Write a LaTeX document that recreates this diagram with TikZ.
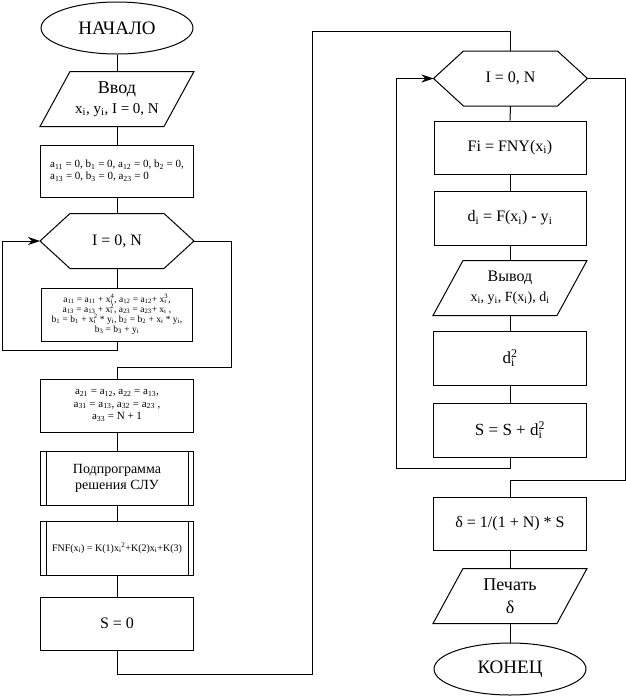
\documentclass[tikz,border=0pt]{standalone}
\usepackage{fontspec}
\setmainfont{Liberation Serif}
\usetikzlibrary{calc,arrows.meta,shapes.geometric}
\newcommand{\fsz}[2]{\fontsize{#1}{#2}\selectfont}
\def\hexframe(#1){\draw ([xshift=30pt]#1.north west) -- ([xshift=-30pt]#1.north east) -- (#1.east) -- ([xshift=-30pt]#1.south east) -- ([xshift=30pt]#1.south west) -- (#1.west) -- cycle;}
\def\slantframe(#1){\draw ([xshift=30pt]#1.north west) -- (#1.north east) -- ([xshift=-30pt]#1.south east) -- (#1.south west) -- cycle;}
\def\subframe(#1){\draw ([xshift=6pt]#1.north west) -- ([xshift=6pt]#1.south west); \draw ([xshift=-6pt]#1.north east) -- ([xshift=-6pt]#1.south east);}
\tikzset{
	blok/.style={draw, rectangle, minimum width=153pt, minimum height=54pt, inner sep=1pt, align=center, font=\fsz{16}{19}},
	bare/.style={rectangle, minimum width=153pt, minimum height=54pt, inner sep=1pt, align=center, font=\fsz{16}{19}},
	term/.style={draw, ellipse, minimum width=152pt, minimum height=52pt, inner sep=0pt, font=\fsz{19}{20}},
	back/.style={-{Stealth[length=12pt,width=8pt]}}
}

\begin{document}
\begin{tikzpicture}[x=1pt, y=-1pt, line width=1pt]
		%%%%% START %%%%%
		\useasboundingbox (0, 0) rectangle (626, 697);
		
		% left column
		\node[term] (start) at (117, 28) {НАЧАЛО};
		\node[bare, font=\fsz{15}{20}] (vvod) at (117, 99) {{\fsz{18}{20}Ввод}\\x\textsubscript{i}, y\textsubscript{i}, I = 0, N};
		\slantframe(vvod);
		\node[blok, align=left, font=\fsz{11}{12}, minimum height=52pt] (init) at (117, 171) {a\textsubscript{11} = 0, b\textsubscript{1} = 0, a\textsubscript{12} = 0, b\textsubscript{2} = 0,\\a\textsubscript{13} = 0, b\textsubscript{3} = 0, a\textsubscript{23} = 0};
		\node[bare] (cyc1) at (117, 241) {I = 0, N};
		\hexframe(cyc1);
		\node[blok, font=\fsz{9.5}{10}, minimum width=151pt, minimum height=53pt] (body) at (117, 314.5) {a\textsubscript{11} = a\textsubscript{11} + x\rlap{\textsubscript{i}}\textsuperscript{4}, a\textsubscript{12} = a\textsubscript{12}+ x\rlap{\textsubscript{i}}\textsuperscript{3},\\a\textsubscript{13} = a\textsubscript{13} + x\rlap{\textsubscript{i}}\textsuperscript{2}, a\textsubscript{23} = a\textsubscript{23}+ x\textsubscript{i} ,\\b\textsubscript{1} = b\textsubscript{1} + x\rlap{\textsubscript{i}}\textsuperscript{2} * y\textsubscript{i}, b\textsubscript{2} = b\textsubscript{2} + x\textsubscript{i} * y\textsubscript{i},\\b\textsubscript{3} = b\textsubscript{3} + y\textsubscript{i}};
		\node[blok, font=\fsz{11}{12.5}, minimum height=53pt] (coef) at (117, 405.5) {a\textsubscript{21} = a\textsubscript{12}, a\textsubscript{22} = a\textsubscript{13},\\a\textsubscript{31} = a\textsubscript{13}, a\textsubscript{32} = a\textsubscript{23} ,\\a\textsubscript{33} = N + 1};
		\node[blok, font=\fsz{14}{16}] (slu) at (117, 478) {Подпрограмма\\решения СЛУ};
		\subframe(slu);
		\node[blok, font=\fsz{10}{12}] (fnf) at (117, 548) {FNF(x\textsubscript{i}) = K(1)x\textsubscript{i}\textsuperscript{2}+K(2)x\textsubscript{i}+K(3)};
		\subframe(fnf);
		\node[blok, minimum height=53pt] (szero) at (117, 623.5) {S = 0};
		
		% right column
		\node[bare] (cyc2) at (510.5, 78.5) {I = 0, N};
		\hexframe(cyc2);
		\node[blok, minimum width=152pt, minimum height=53pt] (fi) at (510, 147.5) {Fi = FNY(x\textsubscript{i})};
		\node[blok, minimum width=152pt] (di) at (510, 218) {d\textsubscript{i} = F(x\textsubscript{i}) - y\textsubscript{i}};
		\node[bare, font=\fsz{14}{20}] (vyvod) at (510, 288) {{\fsz{16}{20}Вывод}\\x\textsubscript{i}, y\textsubscript{i}, F(x\textsubscript{i}), d\textsubscript{i}};
		\slantframe(vyvod);
		\node[blok, font=\fsz{17}{19}] (dsq) at (510, 358) {d\rlap{\textsubscript{i}}\textsuperscript{2}};
		\node[blok, font=\fsz{17}{19}] (ssum) at (510, 430) {S = S + d\rlap{\textsubscript{i}}\textsuperscript{2}};
		\node[blok, minimum height=53pt] (delta) at (510, 523.5) {δ = 1/(1 + N) * S};
		\node[bare, font=\fsz{18}{23}] (pechat) at (510, 596) {Печать\\δ};
		\slantframe(pechat);
		\node[term] (konec) at (510, 669) {КОНЕЦ};
		
		% corners of the connectors
		\coordinate (loopL) at (2, 350);
		\coordinate (exitL) at (231, 367);
		\coordinate (jumpA) at (312, 674);
		\coordinate (jumpB) at (312, 31);
		\coordinate (loopR) at (396, 468);
		\coordinate (exitR) at (625, 480);
		
		\draw (start) -- (vvod);
		\draw (vvod) -- (init);
		\draw (init) -- (cyc1);
		\draw (cyc1) -- (body);
		\draw[back] (body.south) |- (loopL) |- (cyc1.west);
		\draw (cyc1.east) -| (exitL) -| (coef.north);
		\draw (coef) -- (slu);
		\draw (slu) -- (fnf);
		\draw (fnf) -- (szero);
		\draw (szero.south) |- (jumpA) -- (jumpB) -| (cyc2.north);
		
		\draw (cyc2) -- (fi);
		\draw (fi) -- (di);
		\draw (di) -- (vyvod);
		\draw (vyvod) -- (dsq);
		\draw (dsq) -- (ssum);
		\draw[back] (ssum.south) |- (loopR) |- (cyc2.west);
		\draw (cyc2.east) -| (exitR) -| (delta.north);
		\draw (delta) -- (pechat);
		\draw (pechat) -- (konec);
		%%%%% END %%%%%
	\end{tikzpicture}
\end{document}
